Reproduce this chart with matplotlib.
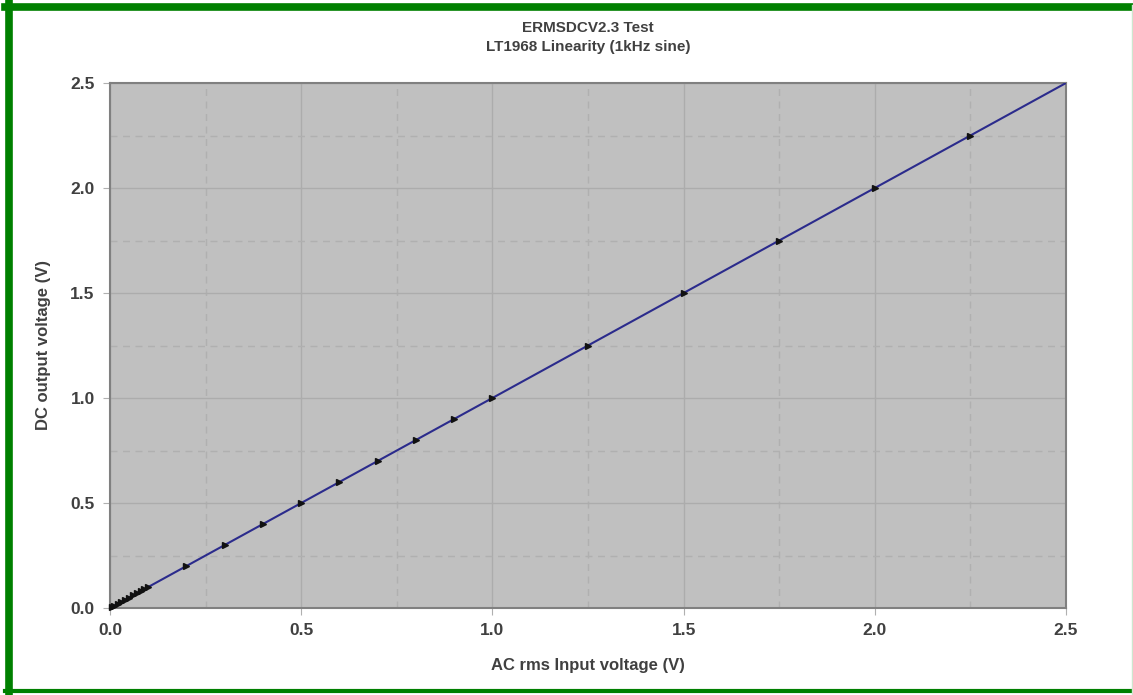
import matplotlib
matplotlib.use("Agg")
import matplotlib.pyplot as plt
from matplotlib.lines import Line2D
import numpy as np

# Data
ac_input = [0.005, 0.01, 0.02, 0.03, 0.04, 0.05, 0.06, 0.07, 0.08, 0.09, 0.10,
            0.2, 0.3, 0.4, 0.5, 0.6, 0.7, 0.8, 0.9, 1.0,
            1.25, 1.5, 1.75, 2.0, 2.25]
dc_output = [0.005, 0.01, 0.02, 0.03, 0.04, 0.05, 0.06, 0.07, 0.08, 0.09, 0.10,
             0.2, 0.3, 0.4, 0.5, 0.6, 0.7, 0.8, 0.9, 1.0,
             1.25, 1.5, 1.75, 2.0, 2.25]
fit_x = [0.0, 2.5]
fit_y = [0.0, 2.5]
ticks = [0.0, 0.5, 1.0, 1.5, 2.0, 2.5]
tick_labels = ["0.0", "0.5", "1.0", "1.5", "2.0", "2.5"]
minor_ticks = [0.25, 0.75, 1.25, 1.75, 2.25]

plt.rcParams['font.family'] = ['Liberation Sans', 'DejaVu Sans']

fig = plt.figure(figsize=(11.33, 6.95), dpi=100)
W, H = 1133, 695
ax = fig.add_axes([110 / W, 1 - 608 / H, (1066 - 110) / W, (608 - 83) / H])
ax.set_facecolor('#c0c0c0')

ax.set_xlim(0, 2.5)
ax.set_ylim(0, 2.5)
ax.set_xticks(ticks)
ax.set_xticklabels(tick_labels)
ax.set_yticks(ticks)
ax.set_yticklabels(tick_labels)
ax.set_xticks(minor_ticks, minor=True)
ax.set_yticks(minor_ticks, minor=True)

ax.grid(which='major', color='#acacac', linewidth=1.0, linestyle='-')
ax.grid(which='minor', color='#b0b0b0', linewidth=1.0, linestyle=(0, (5, 4)))
ax.set_axisbelow(True)

for s in ax.spines.values():
    s.set_color('#808080')
    s.set_linewidth(1.5)

ax.tick_params(which='major', length=5, color='#b0b0b0', labelsize=12.5,
               labelcolor='#404040', pad=6)
ax.tick_params(which='minor', length=0)
for lab in ax.get_xticklabels() + ax.get_yticklabels():
    lab.set_fontweight('bold')

ax.plot(fit_x, fit_y, color='#2b2b8c', linewidth=1.5, zorder=3)
ax.plot(ac_input, dc_output, linestyle='none', marker='>', markersize=3.8,
        color='#111111', zorder=4, clip_on=False)

ax.set_xlabel('AC rms Input voltage (V)', fontsize=12, fontweight='bold',
              color='#404040', labelpad=14)
ax.set_ylabel('DC output voltage (V)', fontsize=12, fontweight='bold',
              color='#404040', labelpad=14)

fig.text(588 / W, 1 - 28 / H, 'ERMSDCV2.3 Test', ha='center', va='center',
         fontsize=11, fontweight='bold', color='#404040')
fig.text(588 / W, 1 - 47 / H, 'LT1968 Linearity (1kHz sine)', ha='center', va='center',
         fontsize=11, fontweight='bold', color='#404040')

# Green frame
green = '#008000'
fig.add_artist(Line2D([8.5 / W, 8.5 / W], [0, 1 - 3 / H], transform=fig.transFigure,
                      color=green, linewidth=5.5))
fig.add_artist(Line2D([5 / W, 1], [1 - 6.5 / H, 1 - 6.5 / H], transform=fig.transFigure,
                      color=green, linewidth=5.5))
fig.add_artist(Line2D([5 / W, 1], [1 - 691 / H, 1 - 691 / H], transform=fig.transFigure,
                      color=green, linewidth=3))
fig.add_artist(Line2D([1131.5 / W, 1131.5 / W], [0, 1 - 5 / H], transform=fig.transFigure,
                      color='#cfe6cf', linewidth=1))

fig.savefig('out.png', dpi=100, facecolor='white')
